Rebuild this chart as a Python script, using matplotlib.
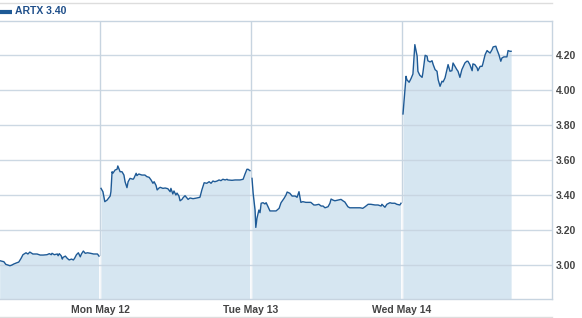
import matplotlib
matplotlib.use("Agg")
import matplotlib.pyplot as plt
from matplotlib.lines import Line2D

# intraday quotes, minutes since market open
fri_minutes = [130, 141, 146, 157, 162, 167, 175, 180, 186, 191, 199, 204, 209, 217, 228,
               236, 244, 254, 260, 265, 267, 273, 281, 283, 286, 291, 294, 296, 302, 307,
               312, 318, 323, 326, 331, 336, 341, 344, 349, 354, 360, 368, 376, 386, 390]
fri_prices = [3.025, 3.019, 3.004, 2.996, 3.000, 3.006, 3.013, 3.017, 3.038, 3.059,
              3.070, 3.063, 3.074, 3.063, 3.063, 3.057, 3.057, 3.059, 3.065, 3.059,
              3.067, 3.059, 3.063, 3.053, 3.065, 3.053, 3.034, 3.044, 3.051, 3.038,
              3.029, 3.034, 3.029, 3.038, 3.059, 3.070, 3.047, 3.063, 3.080, 3.067,
              3.070, 3.067, 3.063, 3.063, 3.051]

mon_minutes = [0, 5, 10, 16, 24, 26, 29, 31, 37, 42, 44, 50, 55, 60, 63, 68, 71, 76, 84, 86,
               92, 94, 99, 107, 115, 120, 126, 131, 136, 139, 144, 147, 152, 155, 162, 168,
               175, 181, 183, 188, 191, 196, 199, 204, 207, 212, 215, 220, 225, 228, 233,
               241, 251, 259, 264, 270, 277, 283, 288, 293, 298, 304, 309, 314, 319, 325,
               330, 332, 343, 351, 364, 372, 377, 382, 385, 390]
mon_prices = [3.438, 3.419, 3.362, 3.371, 3.394, 3.419, 3.533, 3.524, 3.543, 3.547,
              3.566, 3.533, 3.533, 3.514, 3.476, 3.442, 3.476, 3.495, 3.490, 3.495,
              3.524, 3.511, 3.520, 3.514, 3.514, 3.505, 3.501, 3.486, 3.467, 3.476,
              3.455, 3.429, 3.440, 3.444, 3.438, 3.440, 3.436, 3.419, 3.438, 3.406,
              3.423, 3.400, 3.411, 3.394, 3.367, 3.375, 3.385, 3.396, 3.383, 3.375,
              3.383, 3.379, 3.383, 3.387, 3.429, 3.470, 3.467, 3.476, 3.467, 3.480,
              3.476, 3.480, 3.486, 3.482, 3.490, 3.486, 3.490, 3.486, 3.484, 3.486,
              3.486, 3.490, 3.520, 3.547, 3.547, 3.539]

tue_minutes = [0, 3, 8, 10, 13, 18, 21, 24, 29, 34, 37, 42, 47, 55, 63, 71, 76, 84, 89, 92,
               99, 105, 113, 118, 123, 126, 128, 133, 141, 154, 162, 167, 175, 181, 186,
               191, 199, 204, 207, 212, 217, 225, 233, 238, 243, 251, 256, 270, 283, 290,
               296, 304, 311, 322, 330, 338, 340, 348, 353, 361, 366, 374, 379, 387, 390]
tue_prices = [3.495, 3.410, 3.314, 3.215, 3.267, 3.314, 3.299, 3.353, 3.356, 3.349,
              3.356, 3.333, 3.309, 3.309, 3.309, 3.324, 3.356, 3.381, 3.400, 3.417,
              3.410, 3.394, 3.394, 3.387, 3.419, 3.381, 3.358, 3.362, 3.358, 3.358,
              3.343, 3.343, 3.347, 3.337, 3.337, 3.327, 3.333, 3.353, 3.377, 3.371,
              3.367, 3.371, 3.375, 3.367, 3.360, 3.333, 3.327, 3.327, 3.327, 3.324,
              3.333, 3.347, 3.347, 3.343, 3.343, 3.337, 3.347, 3.330, 3.347, 3.356,
              3.353, 3.353, 3.347, 3.343, 3.353]

wed_minutes = [0, 8, 10, 16, 21, 26, 31, 37, 39, 44, 50, 52, 58, 63, 65, 71, 76, 79, 84, 89,
               92, 97, 102, 105, 110, 115, 118, 123, 128, 131, 136, 141, 144, 149, 154, 157,
               162, 167, 170, 175, 181, 183, 188, 194, 196, 202, 207, 209, 215, 220, 222,
               228, 233, 236, 243, 246, 251, 256, 259, 264, 272, 275, 280, 283]
wed_prices = [3.863, 4.078, 4.059, 4.044, 4.065, 4.091, 4.259, 4.193, 4.107, 4.084,
              4.072, 4.097, 4.198, 4.193, 4.167, 4.160, 4.167, 4.145, 4.116, 4.107,
              4.059, 4.021, 4.050, 4.046, 4.069, 4.116, 4.145, 4.107, 4.110, 4.154,
              4.135, 4.116, 4.107, 4.072, 4.116, 4.130, 4.154, 4.164, 4.164, 4.145,
              4.110, 4.149, 4.145, 4.126, 4.110, 4.135, 4.135, 4.149, 4.202, 4.225,
              4.221, 4.211, 4.230, 4.246, 4.250, 4.230, 4.202, 4.164, 4.183, 4.189,
              4.189, 4.225, 4.221, 4.221]

day_labels = ["Mon May 12", "Tue May 13", "Wed May 14"]
y_ticks = [3.00, 3.20, 3.40, 3.60, 3.80, 4.00, 4.20]
legend_label = "ARTX 3.40"

line_color = "#1e5a96"
fill_color = "#d6e6f1"
grid_color = "#c7d4e0"
text_color = "#444444"

plt.rcParams["font.family"] = ["Liberation Sans", "DejaVu Sans"]

fig = plt.figure(figsize=(5.82, 3.18), dpi=100)
ax = fig.add_axes([0, 1 - 299 / 318, 552 / 582, 278 / 318])

ymin, ymax = 2.806, 4.394
# a trading day takes 149 of the 151 px slot, leaving a gap at the day line
slot = 149 / 151
days = [(-1, fri_minutes, fri_prices), (0, mon_minutes, mon_prices),
        (1, tue_minutes, tue_prices), (2, wed_minutes, wed_prices)]
for d, mins, prices in days:
    xs = [d + 1 / 151 + m / 390 * slot for m in mins]
    ax.fill_between(xs, prices, ymin, color=fill_color, lw=0, zorder=1)
    ax.plot(xs, prices, color=line_color, lw=1.0, zorder=3)

for d in range(len(day_labels)):
    ax.axvline(d, color=grid_color, lw=1, zorder=0.5)
    # day separator shows white where it cuts through the filled area
    lo = min(days[d][2][-1], days[d + 1][2][0])
    ax.vlines(d, ymin, lo, color="white", lw=1.2, zorder=1.5)
for t in y_ticks:
    ax.axhline(t, color=grid_color, lw=1, zorder=2, alpha=0.9)

ax.set_xlim(-100 / 151, 2 + 150 / 151)
ax.set_ylim(ymin, ymax)
ax.set_xticks(range(len(day_labels)))
ax.set_xticklabels(day_labels)
ax.set_yticks(y_ticks)
ax.set_yticklabels([f"{t:.2f}" for t in y_ticks])
ax.yaxis.tick_right()
ax.tick_params(length=0, labelsize=7.5, labelcolor=text_color)
ax.tick_params(axis="x", pad=4.5)
ax.tick_params(axis="y", pad=3)
for lab in ax.get_xticklabels() + ax.get_yticklabels():
    lab.set_fontweight("bold")

ax.spines["left"].set_visible(False)
for side in ["top", "right", "bottom"]:
    ax.spines[side].set_color(grid_color)
    ax.spines[side].set_linewidth(1)

# frame around legend strip and bottom of label area
W = 582
fig.add_artist(Line2D([0, 552 / W], [1 - 2.5 / 318] * 2, color="#dddddd", lw=1))
fig.add_artist(Line2D([0, 552 / W], [1 - 316.5 / 318] * 2, color="#dddddd", lw=1))

# legend
fig.add_artist(Line2D([0, 12 / W], [1 - 11.5 / 318] * 2, color=line_color, lw=3,
                      solid_capstyle="butt"))
fig.text(15 / W, 1 - 11.5 / 318, legend_label, color="#1f4f8a", fontsize=7.5,
         fontweight="bold", va="center", ha="left")

fig.savefig("out.png", dpi=100)
